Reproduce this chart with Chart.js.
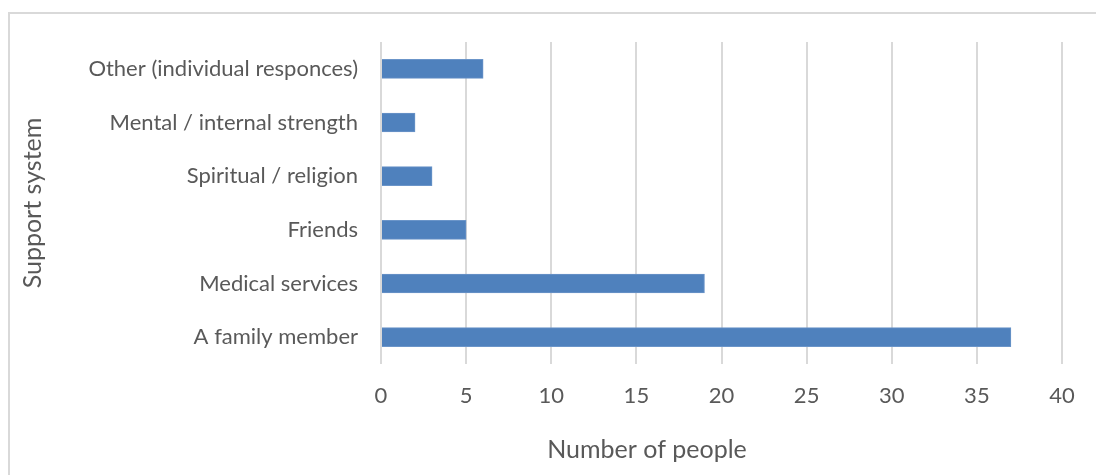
<!DOCTYPE html>
<html lang="en">
<head>
    <meta charset="UTF-8">
    <title>Support system</title>
    <script src="https://cdnjs.cloudflare.com/ajax/libs/Chart.js/4.4.0/chart.umd.min.js"></script>
    <style>
        body { margin: 0; background: #fff; }
        .wrap { position: relative; width: 1096px; height: 475px; overflow: hidden; }
        .frame {
            position: absolute; left: 8px; top: 12px; width: 1200px; height: 600px;
            border-top: 2px solid #d9d9d9; border-left: 2px solid #d9d9d9;
        }
        canvas { position: absolute; left: 0; top: 0; }
    </style>
</head>
<body>
<div class="wrap">
    <div class="frame"></div>
    <canvas id="myChart" width="1096" height="475"></canvas>
</div>
<script>
// support sources, listed top to bottom
var categories = ['Other (individual responces)', 'Mental / internal strength', 'Spiritual / religion',
                  'Friends', 'Medical services', 'A family member'];
var people = [6, 2, 3, 5, 19, 37];
var xTicks = [0, 5, 10, 15, 20, 25, 30, 35, 40];
var xTitle = 'Number of people';
var yTitle = 'Support system';

var textColor = '#595959';
var family = 'Lato, Carlito, Calibri, sans-serif';
var tickFont = { family: family, size: 22 };
var titleFont = { family: family, size: 25 };

// x axis title sits centred under the whole frame, not under the plot
var xTitlePlugin = {
    id: 'xTitle',
    afterDraw: function (chart) {
        var c = chart.ctx;
        c.save();
        c.font = titleFont.size + 'px ' + family;
        c.fillStyle = textColor;
        c.textAlign = 'center';
        c.textBaseline = 'middle';
        c.fillText(xTitle, 647, 450);
        c.restore();
    }
};

var ctx = document.getElementById('myChart');
var myChart = new Chart(ctx, {
    type: 'bar',
    data: {
        labels: categories,
        datasets: [{
            label: xTitle,
            data: people,
            backgroundColor: '#4f81bd',
            borderColor: '#6b95c9',
            borderWidth: 1,
            barThickness: 19
        }]
    },
    options: {
        indexAxis: 'y',
        responsive: false,
        animation: false,
        layout: { padding: { top: 42, right: 34, bottom: 0, left: 0 } },
        plugins: {
            legend: { display: false },
            tooltip: { enabled: false }
        },
        scales: {
            x: {
                min: 0,
                max: 40,
                afterBuildTicks: function (axis) {
                    axis.ticks = xTicks.map(function (v) { return { value: v }; });
                },
                afterFit: function (axis) { axis.height = 111; },
                border: { display: false },
                grid: { color: '#d9d9d9', lineWidth: 2, drawTicks: false },
                ticks: { color: textColor, font: tickFont, padding: 19 }
            },
            y: {
                afterFit: function (axis) { axis.width = 381; },
                border: { display: false },
                grid: { display: false, drawTicks: false },
                ticks: { color: textColor, font: tickFont, padding: 23 },
                title: {
                    display: true,
                    text: yTitle,
                    color: textColor,
                    font: titleFont,
                    padding: { top: 18, bottom: 0 }
                }
            }
        }
    },
    plugins: [xTitlePlugin]
});
</script>
</body>
</html>
